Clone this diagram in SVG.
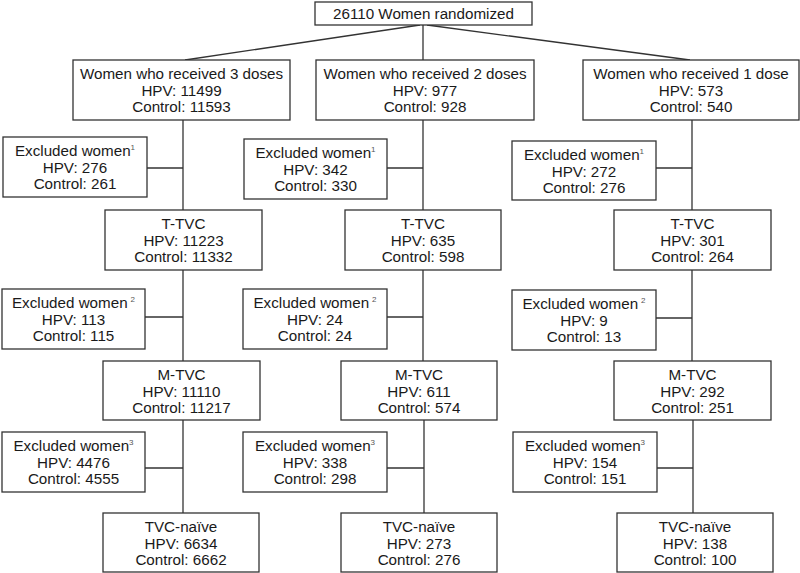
<svg xmlns="http://www.w3.org/2000/svg" width="800" height="573" viewBox="0 0 800 573">
<style>
rect{fill:#fff;stroke:#333;stroke-width:1.3}
.c line{stroke:#333;stroke-width:1.3}
text{font-family:"Liberation Sans",Arial,sans-serif;font-size:15.2px;fill:#1a1a1a;text-anchor:middle}
.s{font-size:8px;fill:#555}
</style>
<rect x="0" y="0" width="800" height="573" style="stroke:none"/>
<g class="c" id="connectors">
<line x1="423" y1="25" x2="423" y2="60"/>
<line x1="420" y1="25" x2="185" y2="60"/>
<line x1="427" y1="25" x2="690" y2="60"/>
<line x1="183" y1="120" x2="183" y2="210"/>
<line x1="183" y1="270" x2="183" y2="361"/>
<line x1="183" y1="420" x2="183" y2="513"/>
<line x1="147" y1="168" x2="183" y2="168"/>
<line x1="145" y1="317" x2="183" y2="317"/>
<line x1="145" y1="468" x2="183" y2="468"/>
<line x1="423" y1="120" x2="423" y2="210"/>
<line x1="423" y1="270" x2="423" y2="361"/>
<line x1="424" y1="420" x2="424" y2="513"/>
<line x1="387" y1="168" x2="423" y2="168"/>
<line x1="387" y1="317" x2="423" y2="317"/>
<line x1="387" y1="468" x2="424" y2="468"/>
<line x1="692" y1="120" x2="692" y2="210"/>
<line x1="692" y1="270" x2="692" y2="361"/>
<line x1="693" y1="420" x2="693" y2="513"/>
<line x1="656" y1="168" x2="692" y2="168"/>
<line x1="656" y1="318" x2="692" y2="318"/>
<line x1="657" y1="468" x2="693" y2="468"/>
</g>
<g id="top"><rect x="315" y="2" width="217" height="23"/><text x="423.5" y="19">26110 Women randomized</text></g>

<g id="dose3"><rect x="73" y="60" width="217" height="60"/><text x="181.5" y="79">Women who received 3 doses</text><text x="181.5" y="95.5">HPV: 11499</text><text x="181.5" y="112">Control: 11593</text></g>
<g id="dose2"><rect x="316" y="60" width="218" height="60"/><text x="425" y="79">Women who received 2 doses</text><text x="425" y="95.5">HPV: 977</text><text x="425" y="112">Control: 928</text></g>
<g id="dose1"><rect x="583" y="60" width="216" height="60"/><text x="691" y="79">Women who received 1 dose</text><text x="691" y="95.5">HPV: 573</text><text x="691" y="112">Control: 540</text></g>

<g id="ex1a"><rect x="3" y="137" width="144" height="60"/><text x="75" y="156">Excluded women<tspan class="s" dy="-6">1</tspan></text><text x="75" y="172.5">HPV: 276</text><text x="75" y="189">Control: 261</text></g>
<g id="ex1b"><rect x="244" y="139" width="143" height="60"/><text x="315.5" y="158">Excluded women<tspan class="s" dy="-6">1</tspan></text><text x="315.5" y="174.5">HPV: 342</text><text x="315.5" y="191">Control: 330</text></g>
<g id="ex1c"><rect x="512" y="141" width="144" height="59"/><text x="584" y="160">Excluded women<tspan class="s" dy="-6">1</tspan></text><text x="584" y="176.5">HPV: 272</text><text x="584" y="193">Control: 276</text></g>

<g id="ttvc1"><rect x="105" y="210" width="157" height="60"/><text x="183.5" y="229">T-TVC</text><text x="183.5" y="245.5">HPV: 11223</text><text x="183.5" y="262">Control: 11332</text></g>
<g id="ttvc2"><rect x="345" y="210" width="156" height="60"/><text x="423" y="229">T-TVC</text><text x="423" y="245.5">HPV: 635</text><text x="423" y="262">Control: 598</text></g>
<g id="ttvc3"><rect x="614" y="210" width="157" height="60"/><text x="692.5" y="229">T-TVC</text><text x="692.5" y="245.5">HPV: 301</text><text x="692.5" y="262">Control: 264</text></g>

<g id="ex2a"><rect x="2" y="289" width="143" height="60"/><text x="73.5" y="308">Excluded women<tspan class="s" dx="3" dy="-6">2</tspan></text><text x="73.5" y="324.5">HPV: 113</text><text x="73.5" y="341">Control: 115</text></g>
<g id="ex2b"><rect x="243" y="289" width="144" height="60"/><text x="315" y="308">Excluded women<tspan class="s" dx="3" dy="-6">2</tspan></text><text x="315" y="324.5">HPV: 24</text><text x="315" y="341">Control: 24</text></g>
<g id="ex2c"><rect x="512" y="290" width="144" height="60"/><text x="584" y="309">Excluded women<tspan class="s" dx="3" dy="-6">2</tspan></text><text x="584" y="325.5">HPV: 9</text><text x="584" y="342">Control: 13</text></g>

<g id="mtvc1"><rect x="103" y="361" width="157" height="59"/><text x="181.5" y="380">M-TVC</text><text x="181.5" y="396.5">HPV: 11110</text><text x="181.5" y="413">Control: 11217</text></g>
<g id="mtvc2"><rect x="341" y="361" width="156" height="59"/><text x="419" y="380">M-TVC</text><text x="419" y="396.5">HPV: 611</text><text x="419" y="413">Control: 574</text></g>
<g id="mtvc3"><rect x="614" y="361" width="157" height="59"/><text x="692.5" y="380">M-TVC</text><text x="692.5" y="396.5">HPV: 292</text><text x="692.5" y="413">Control: 251</text></g>

<g id="ex3a"><rect x="2" y="432" width="143" height="60"/><text x="73.5" y="451">Excluded women<tspan class="s" dy="-6">3</tspan></text><text x="73.5" y="467.5">HPV: 4476</text><text x="73.5" y="484">Control: 4555</text></g>
<g id="ex3b"><rect x="243" y="432" width="144" height="60"/><text x="315" y="451">Excluded women<tspan class="s" dy="-6">3</tspan></text><text x="315" y="467.5">HPV: 338</text><text x="315" y="484">Control: 298</text></g>
<g id="ex3c"><rect x="513" y="432" width="144" height="60"/><text x="585" y="451">Excluded women<tspan class="s" dy="-6">3</tspan></text><text x="585" y="467.5">HPV: 154</text><text x="585" y="484">Control: 151</text></g>

<g id="naive1"><rect x="103" y="513" width="156" height="59"/><text x="181" y="532">TVC-naïve</text><text x="181" y="548.5">HPV: 6634</text><text x="181" y="565">Control: 6662</text></g>
<g id="naive2"><rect x="341" y="513" width="156" height="59"/><text x="419" y="532">TVC-naïve</text><text x="419" y="548.5">HPV: 273</text><text x="419" y="565">Control: 276</text></g>
<g id="naive3"><rect x="617" y="513" width="156" height="59"/><text x="695" y="532">TVC-naïve</text><text x="695" y="548.5">HPV: 138</text><text x="695" y="565">Control: 100</text></g>
</svg>
